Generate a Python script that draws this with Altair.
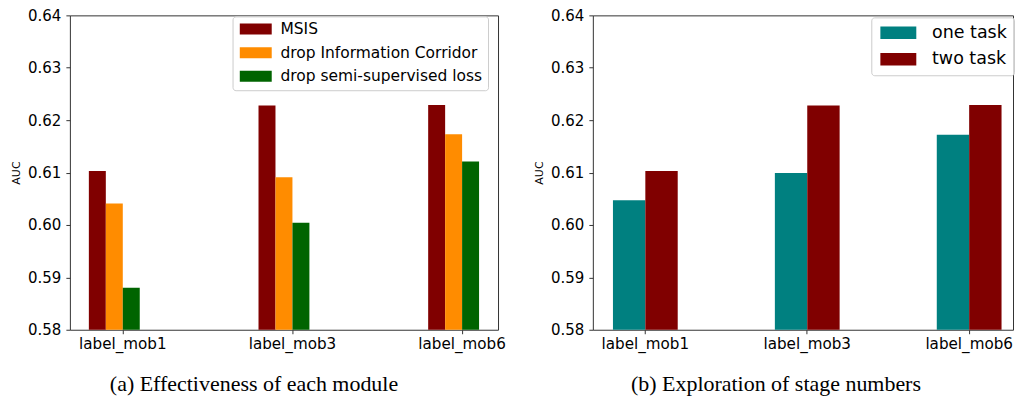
import altair as alt
import pandas as pd

categories = ["label_mob1", "label_mob3", "label_mob6"]

# panel (a)
series_a = ["MSIS", "drop Information Corridor", "drop semi-supervised loss"]
msis = [0.6103, 0.6228, 0.6229]
drop_ic = [0.6041, 0.6091, 0.6173]
drop_ssl = [0.5880, 0.6004, 0.6121]
colors_a = ["#800000", "#ff8c00", "#006400"]

# panel (b)
series_b = ["one task", "two task"]
one_task = [0.6047, 0.6099, 0.6172]
two_task = [0.6103, 0.6228, 0.6229]
colors_b = ["#008080", "#800000"]

y_ticks = [0.58, 0.59, 0.60, 0.61, 0.62, 0.63, 0.64]

rows_a = []
for s, vals in zip(series_a, [msis, drop_ic, drop_ssl]):
    for c, v in zip(categories, vals):
        rows_a.append({"cat": c, "series": s, "auc": v})
df_a = pd.DataFrame(rows_a)

rows_b = []
for s, vals in zip(series_b, [one_task, two_task]):
    for c, v in zip(categories, vals):
        rows_b.append({"cat": c, "series2": s, "auc": v})
df_b = pd.DataFrame(rows_b)

FONT = "DejaVu Sans"
PLOT_H = 315


def y_axis():
    return alt.Y(
        "auc:Q",
        scale=alt.Scale(domain=[0.58, 0.64], nice=False, zero=False),
        axis=alt.Axis(
            values=y_ticks, format=".2f", title="AUC", titleFontSize=11,
            titleFontWeight="normal", titleColor="black", titleFont=FONT,
            titlePadding=6, labelFontSize=15, labelFont=FONT, labelColor="black",
            labelPadding=5, tickSize=4, tickColor="#333", grid=False, domain=False,
        ),
    )


def x_axis(pad_outer, align):
    return alt.X(
        "cat:N",
        sort=categories,
        scale=alt.Scale(paddingInner=0.6, paddingOuter=pad_outer, align=align),
        axis=alt.Axis(
            title=None, labelAngle=0, labelFontSize=15.2, labelFont=FONT,
            labelColor="black", labelPadding=3, tickSize=4, tickColor="#333",
            domain=False, grid=False,
        ),
    )


legend_common = dict(
    orient="none", title=None, labelFont=FONT, labelColor="black", labelLimit=0,
    strokeColor="#cccccc", fillColor="rgba(255,255,255,0.8)", cornerRadius=3,
    symbolStrokeWidth=0, symbolOpacity=1,
)

chart_a = alt.Chart(df_a).mark_bar(clip=True).encode(
    x=x_axis(0.0618, 0.905),
    xOffset=alt.XOffset(
        "series:N",
        scale=alt.Scale(domain=series_a + ["_pad"], paddingInner=0, paddingOuter=0),
    ),
    y=y_axis(),
    color=alt.Color(
        "series:N",
        scale=alt.Scale(domain=series_a, range=colors_a),
        legend=alt.Legend(
            legendX=163, legendY=1, padding=5, rowPadding=6.6,
            labelFontSize=15.5, symbolType="M-2.909,-1L2.909,-1L2.909,1L-2.909,1Z",
            symbolSize=121, symbolOffset=10.5, labelOffset=17, **legend_common,
        ),
    ),
).properties(
    width=429, height=PLOT_H,
    title=alt.TitleParams(
        "(a) Effectiveness of each module", orient="bottom", anchor="middle",
        frame="group", dx=-30, offset=39, baseline="alphabetic",
        font="Liberation Serif", fontSize=22, fontWeight="normal", color="black",
    ),
)

chart_b = alt.Chart(df_b).mark_bar(clip=True).encode(
    x=x_axis(0.0975, 0.637),
    xOffset=alt.XOffset(
        "series2:N",
        scale=alt.Scale(domain=series_b, paddingInner=0, paddingOuter=0),
    ),
    y=y_axis(),
    color=alt.Color(
        "series2:N",
        scale=alt.Scale(domain=series_b, range=colors_b),
        legend=alt.Legend(
            legendX=279, legendY=2, padding=6.7, rowPadding=7.5,
            labelFontSize=17.5, symbolType="M-2.835,-1L2.835,-1L2.835,1L-2.835,1Z",
            symbolSize=161.3, symbolOffset=11.65, labelOffset=25, **legend_common,
        ),
    ),
).properties(
    width=421, height=PLOT_H,
    title=alt.TitleParams(
        "(b) Exploration of stage numbers", orient="bottom", anchor="middle",
        frame="group", dx=-27, offset=39, baseline="alphabetic",
        font="Liberation Serif", fontSize=22, fontWeight="normal", color="black",
    ),
)

chart = alt.hconcat(chart_a, chart_b, spacing=27).resolve_scale(
    color="independent", xOffset="independent", x="independent", y="independent"
).properties(
    padding={"left": 2, "top": -1, "right": 0, "bottom": 0},
    background="white",
).configure_view(
    stroke="#333", strokeWidth=1
)

chart.save("out.html", embed_options={"renderer": "svg", "actions": False})
